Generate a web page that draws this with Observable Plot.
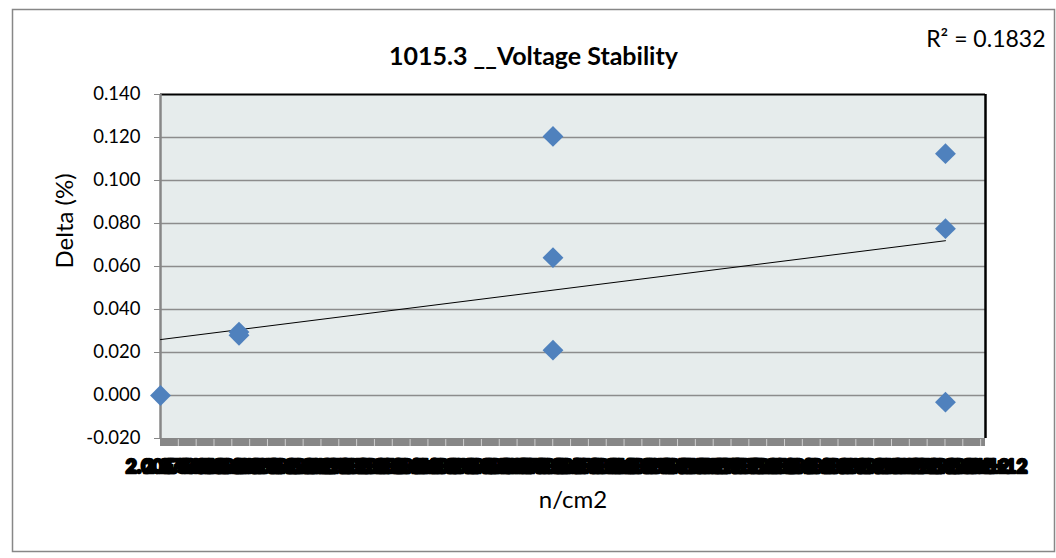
<!DOCTYPE html>
<html>
<head>
<meta charset="utf-8">
<script src="https://cdn.jsdelivr.net/npm/d3@7"></script>
<script src="https://cdn.jsdelivr.net/npm/@observablehq/plot@0.6"></script>
<style>
  html, body { margin: 0; padding: 0; background: white; }
  #chart { width: 1056px; height: 558px; }
</style>
</head>
<body>
<div id="chart"></div>
<script>
// ---- data ----
const fluence = [0, 1e11, 1e11, 5e11, 5e11, 5e11, 1e12, 1e12, 1e12];   // n/cm2
const deltaPct = [0.000, 0.0295, 0.028, 0.1205, 0.0641, 0.0211, 0.1125, 0.0776, -0.0031];
const yTicks = [-0.02, 0, 0.02, 0.04, 0.06, 0.08, 0.10, 0.12, 0.14];
const gridTicks = [0, 0.02, 0.04, 0.06, 0.08, 0.10, 0.12];
const xTickStep = 2.2713e10;
const xTickCount = 47;
const titleText = "1015.3 __Voltage Stability";
const rSquaredText = "R\u00B2 = 0.1832";
const yLabel = "Delta (%)";
const xLabel = "n/cm2";

const points = fluence.map((x, i) => ({x, y: deltaPct[i]}));
const xTicks = d3.range(xTickCount).map(i => i * xTickStep);
const fmtX = d => d === 0 ? "2.00E+00" : d.toExponential(2).toUpperCase().replace(/E\+(\d)$/, "E+0$1");
const fmtY = d => d.toFixed(3);

const font = "Lato, 'Open Sans', sans-serif";
const grey = "#878787";

const chart = Plot.plot({
  width: 1056,
  height: 558,
  marginLeft: 160,
  marginRight: 71,
  marginTop: 94,
  marginBottom: 120,
  x: {domain: [0, 1.051e12], axis: null},
  y: {domain: [-0.02, 0.14], axis: null},
  style: {fontFamily: font, background: "white", color: "black"},
  marks: [
    // outer chart border
    Plot.frame({stroke: grey, strokeWidth: 1.5, insetLeft: -148, insetTop: -85, insetRight: -69, insetBottom: -113}),
    // plot area background
    Plot.frame({fill: "#e6ecec", stroke: null}),
    // gridlines
    Plot.ruleY(gridTicks, {stroke: "#8c8c8c", strokeWidth: 1.5}),
    // top & right borders (black)
    Plot.ruleY([0.14], {stroke: "black", strokeWidth: 2}),
    Plot.ruleX([1.051e12], {stroke: "black", strokeWidth: 2.5}),
    // left axis line
    Plot.ruleX([0], {stroke: grey, strokeWidth: 2.5}),
    // bottom axis strip with dense tick marks
    Plot.ruleY([-0.02], {stroke: grey, strokeWidth: 8, dy: 3.5}),
    Plot.ruleX(xTicks.slice(1), {y1: -0.0205, y2: -0.0237, stroke: "#cfcfcf", strokeWidth: 1}),
    // y axis ticks and labels
    Plot.axisY(yTicks, {label: null, tickSize: 6, tickPadding: 14, fontSize: 18.5, tickFormat: fmtY, stroke: grey}),
    // x tick labels (overlapping, as in the reference)
    Plot.text(xTicks, {x: d => d, y: -0.02, dy: 28, dx: 6, text: fmtX, fontWeight: 900, fontSize: 19, fill: "black", stroke: "black", strokeWidth: 2.5}),
    // trendline
    Plot.linearRegressionY(points, {x: "x", y: "y", ci: 0, stroke: "black", strokeWidth: 1}),
    // data points
    Plot.dot(points, {x: "x", y: "y", symbol: "diamond2", r: 9.4, fill: "#4f81bd", stroke: null}),
    // title
    Plot.text([titleText], {frameAnchor: "top", dx: -39.5, dy: -47, fontSize: 25, fontWeight: "bold", fill: "black"}),
    // R squared
    Plot.text([rSquaredText], {frameAnchor: "top-right", dx: 60, dy: -64, textAnchor: "end", fontSize: 23, fill: "black"}),
    // axis titles
    Plot.text([yLabel], {frameAnchor: "left", dx: -95, dy: 2, rotate: -90, fontSize: 24, fill: "black"}),
    Plot.text([xLabel], {frameAnchor: "bottom", dy: 69, fontSize: 24, fill: "black"})
  ]
});
document.getElementById("chart").appendChild(chart);
</script>
</body>
</html>
